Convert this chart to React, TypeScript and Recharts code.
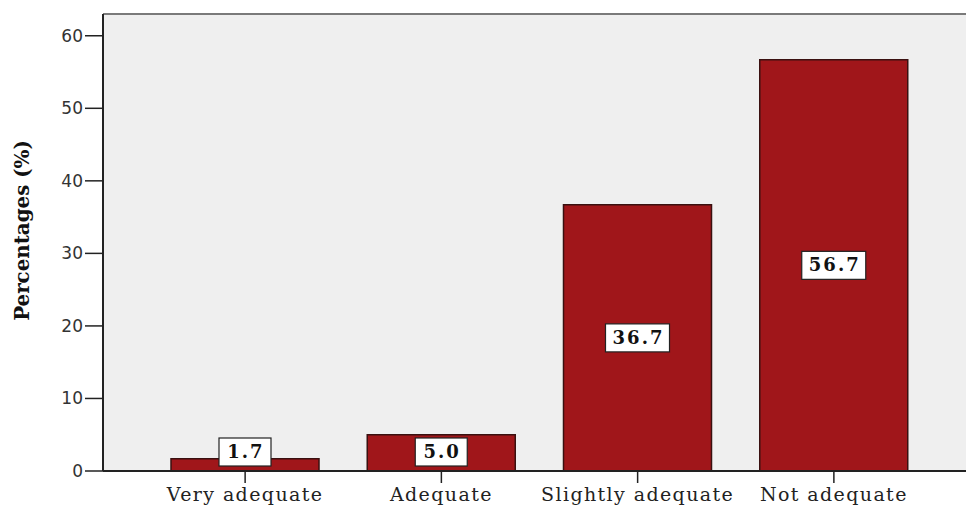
import React from 'react';
import { BarChart, Bar, XAxis, YAxis, CartesianGrid, ReferenceLine, LabelList } from 'recharts';

const categories = ['Very adequate', 'Adequate', 'Slightly adequate', 'Not adequate'];
const percentages = [1.7, 5.0, 36.7, 56.7];
const yTicks = [0, 10, 20, 30, 40, 50, 60];

const data = categories.map((name, i) => ({ name, value: percentages[i] }));

// white boxed value label centred on the bar, kept above the axis for short bars
const ValueLabel = (props: any) => {
  const { x, y, width, height, value } = props;
  const cx = x + width / 2;
  const bottom = y + height;
  const cy = Math.min(y + height / 2, bottom - 19);
  const text = Number(value).toFixed(1);
  const w = text.length * 12 + 16;
  return (
    <g>
      <rect x={cx - w / 2} y={cy - 14} width={w} height={28} fill="#fff" stroke="#222" strokeWidth={1.2} />
      <text
        x={cx + 1}
        y={cy + 1}
        textAnchor="middle"
        dominantBaseline="middle"
        fontFamily="DejaVu Serif"
        fontWeight="bold"
        fontSize={18}
        letterSpacing={2}
        fill="#111"
      >
        {text}
      </text>
    </g>
  );
};

// rotated axis title, narrow and tall
const YTitle = (props: any) => {
  const { viewBox } = props;
  const x = viewBox.x + 29;
  const y = viewBox.y + viewBox.height / 2 - 12;
  return (
    <text
      transform={`translate(${x},${y}) rotate(-90) scale(1.05,1)`}
      textAnchor="middle"
      fontFamily="DejaVu Serif Condensed, DejaVu Serif"
      fontStretch="condensed"
      fontWeight="bold"
      fontSize={21}
      fill="#111"
    >
      Percentages (%)
    </text>
  );
};

export default function App() {
  return (
    <div style={{ position: 'absolute', left: 0, top: 0, background: '#fff' }}>
      <BarChart
        width={966}
        height={507}
        data={data}
        margin={{ top: 14, right: 0, left: 0, bottom: 0 }}
        barCategoryGap={24}
      >
        <CartesianGrid horizontal={false} vertical={false} fill="#efefef" stroke="none" />
        <ReferenceLine y={63} stroke="#7a7a7a" strokeWidth={2} />
        <XAxis
          dataKey="name"
          height={36}
          padding={{ left: 44, right: 34 }}
          tickSize={12}
          tickLine={{ stroke: '#222', strokeWidth: 1.5 }}
          axisLine={{ stroke: '#222', strokeWidth: 2 }}
          tick={{ fill: '#222', fontFamily: 'DejaVu Serif', fontSize: 19, letterSpacing: 1.4, dy: 3 }}
          interval={0}
        />
        <YAxis
          width={103}
          domain={[0, 63]}
          ticks={yTicks}
          tickSize={18}
          tickLine={{ stroke: '#222', strokeWidth: 1.5 }}
          axisLine={{ stroke: '#222', strokeWidth: 2 }}
          tick={{ fill: '#333', fontFamily: 'DejaVu Sans', fontSize: 17 }}
          label={<YTitle />}
        />
        <Bar dataKey="value" fill="#a0161a" stroke="#3a1010" strokeWidth={1.5} isAnimationActive={false}>
          <LabelList dataKey="value" content={ValueLabel} />
        </Bar>
      </BarChart>
    </div>
  );
}
